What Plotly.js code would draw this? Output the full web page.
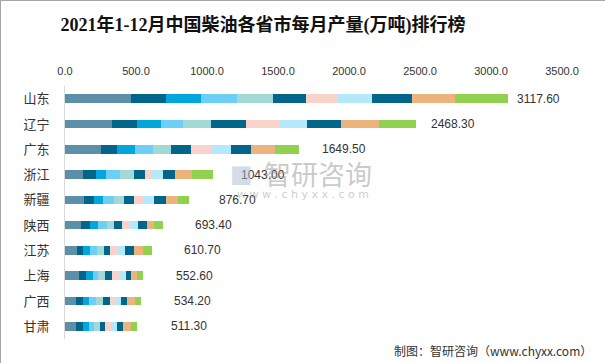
<!DOCTYPE html>
<html><head><meta charset="utf-8">
<script src="https://cdn.plot.ly/plotly-3.0.1.min.js"></script>
<style>html,body{margin:0;padding:0;background:#fff}#c{width:605px;height:363px;box-sizing:border-box;border:1px solid #a6a6a6}</style>
</head><body><div id="c"></div>
<script>
const provinces = ['山东','辽宁','广东','浙江','新疆','陕西','江苏','上海','广西','甘肃'];
const totals = [3117.60, 2468.30, 1649.50, 1043.00, 876.70, 693.40, 610.70, 552.60, 534.20, 511.30];
const months = ['1-2月','3月','4月','5月','6月','7月','8月','9月','10月','11月','12月'];
// monthly output per province (rows follow months), 10k tonnes
const m12  = [462, 329, 252, 126, 133, 112, 84, 98, 77, 77];
const m3   = [252, 175, 112, 91, 70, 63, 42, 49, 49, 49];
const m4   = [245, 175, 126, 70, 63, 56, 49, 49, 42, 42];
const m5   = [252, 154, 133, 98, 77, 63, 49, 38, 49, 35];
const m6   = [252, 196, 126, 98, 70, 49, 49, 49, 49, 42];
const m7   = [231, 245, 140, 77, 70, 56, 42, 49, 49, 35];
const m8   = [224, 231, 147, 49, 70, 56, 56, 50, 42, 42];
const m9   = [245, 196, 133, 84, 77, 56, 49, 50, 35, 42];
const m10  = [280, 245, 140, 84, 84, 63, 63, 30, 42, 42];
const m11  = [301, 266, 168, 119, 84, 56, 64, 42, 57, 56];
const m12b = [375.6, 256.3, 172.5, 147, 78.7, 63.4, 64.7, 48.6, 43.2, 48.3];
const series = [m12, m3, m4, m5, m6, m7, m8, m9, m10, m11, m12b];
const colors = ['#5b90a8','#02658a','#00a6dc','#6dcff6','#a2d8d5','#02658a','#f9d2c9','#b3e9fb','#02658a','#ecb37c','#92d050'];

const traces = series.map((v, i) => ({
  type: 'bar', orientation: 'h', name: months[i],
  y: provinces, x: v,
  marker: {color: colors[i], line: {width: 0}},
  hoverinfo: 'x+name'
}));

const maxT = Math.max(...totals);
const annotations = totals.map((t, i) => ({
  x: t, y: provinces[i], xref: 'x', yref: 'y',
  text: t.toFixed(2), showarrow: false, xanchor: 'left',
  xshift: 36 - 29 * t / maxT,
  font: {family: 'Liberation Sans, Arial, sans-serif', size: 12, color: '#333'}
}));
annotations.push(
  {xref: 'paper', yref: 'paper', x: 0.509, y: 0.656, xanchor: 'center', yanchor: 'middle',
   text: '智研咨询', showarrow: false,
   font: {family: 'Noto Sans CJK SC', size: 27, color: 'rgba(150,150,150,0.5)'}},
  {xref: 'paper', yref: 'paper', x: 0.479, y: 0.573, xanchor: 'center', yanchor: 'middle',
   text: 'w w w . c h y x x . c o m', showarrow: false,
   font: {family: 'DejaVu Sans', size: 11, color: 'rgba(160,160,160,0.55)'}},
  {xref: 'paper', yref: 'paper', x: 0.356, y: 0.652, xanchor: 'center', yanchor: 'middle',
   text: '■', showarrow: false,
   font: {family: 'DejaVu Sans', size: 24, color: 'rgba(170,185,210,0.5)'}},
  {xref: 'paper', yref: 'paper', x: 1.064, y: -0.045, xanchor: 'right', yanchor: 'middle',
   text: '制图：智研咨询（www.chyxx.com）', showarrow: false,
   font: {family: 'Noto Sans CJK SC', size: 12, color: '#333'}}
);

const layout = {
  width: 605, height: 363,
  margin: {l: 64, r: 44, t: 85, b: 25},
  paper_bgcolor: '#fff', plot_bgcolor: '#fff',
  barmode: 'stack', bargap: 0.66, showlegend: false,
  title: {text: '2021年1-12月中国柴油各省市每月产量(万吨)排行榜', xref: 'container', x: 0.433, xanchor: 'center',
          yref: 'container', y: 0.935, yanchor: 'middle',
          font: {family: 'Liberation Serif, Noto Sans CJK SC', size: 18, color: '#111', weight: 'bold'}},
  xaxis: {range: [0, 3500], side: 'top', dtick: 500, tickformat: '.1f', showgrid: false, zeroline: false,
          showline: false, ticks: '', fixedrange: true, ticklabelstandoff: 8,
          tickfont: {family: 'Liberation Sans, Arial', size: 11, color: '#333'}},
  yaxis: {autorange: 'reversed', showline: true, linecolor: '#d9d9d9', linewidth: 1, ticks: '',
          showgrid: false, ticklabelstandoff: 12,
          tickfont: {family: 'Noto Sans CJK SC', size: 13, color: '#333'}},
  annotations: annotations
};
Plotly.newPlot('c', traces, layout, {displayModeBar: false, staticPlot: true});
</script></body></html>
